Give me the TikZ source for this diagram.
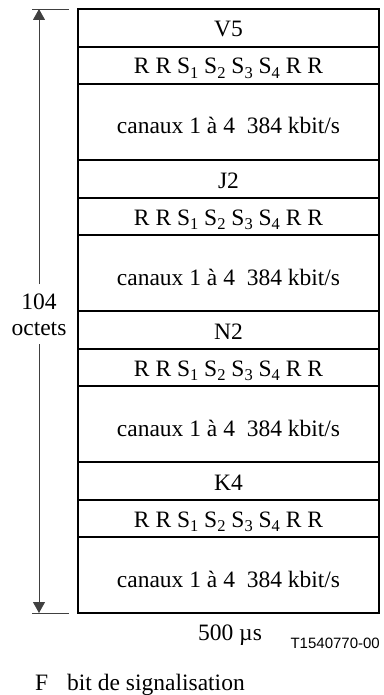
\documentclass[tikz,border=0pt]{standalone}
\usepackage{fontspec}
\setmainfont{Liberation Serif}
\newfontfamily\codefont{Liberation Sans}
\usetikzlibrary{arrows.meta}
\newcommand{\subidx}[1]{\raisebox{-0.4ex}{\fontsize{16.5}{16.5}\selectfont #1}}
\newcommand{\rrs}{R R S\subidx{1} S\subidx{2} S\subidx{3} S\subidx{4} R R}
\tikzset{
  txt/.style={inner sep=0pt, anchor=base, font=\fontsize{23.5}{26}\selectfont},
  rowline/.style={line width=2pt},
  outline/.style={line width=1.1pt},
  dimline/.style={line width=0.8pt, draw=black!75},
  arrowtip/.style={-{Triangle[length=11pt,width=12pt]}}
}
\begin{document}
\begin{tikzpicture}[x=1pt,y=-1pt]
\useasboundingbox (0,0) rectangle (383,695);
\draw[outline] (78,9) rectangle (379,613);
\foreach \g/\hdr/\nm in {0/V5/a,1/J2/b,2/N2/c,3/K4/d}{
  \pgfmathsetmacro{\t}{9+151*\g}
  \node[txt] (h\nm) at (228.5,\t+28) {\hdr};
  \node[txt] (r\nm) at (228.5,\t+65) {\rrs};
  \node[txt] (c\nm) at (228.5,\t+125) {canaux 1 à 4\ \ 384 kbit/s};
  \draw[rowline] (78,\t+38) -- (379,\t+38);
  \draw[rowline] (78,\t+75) -- (379,\t+75);
}
\foreach \t in {160,311,462}{\draw[rowline] (78,\t) -- (379,\t);}
\coordinate (top) at (39,9);
\coordinate (bot) at (39,613);
\draw[dimline] (32,9) -- (69,9);
\draw[dimline] (32,613) -- (69,613);
\node[txt, align=center, inner ysep=9pt, inner xsep=0pt] (lab) at (39,335) {104\\octets};
\draw[dimline, arrowtip] (lab.north) -- (top);
\draw[dimline, arrowtip] (lab.south) -- (bot);
\node[txt] (dur) at (230,640) {500 µs};
\node[inner sep=0pt, anchor=base east, font=\codefont\fontsize{15}{16}\selectfont] (code) at (380,648) {T1540770-00};
\node[txt, anchor=base west] (legf) at (35,690) {F};
\node[txt, anchor=base west] (leg) at (67,690) {bit de signalisation};
\end{tikzpicture}
\end{document}
